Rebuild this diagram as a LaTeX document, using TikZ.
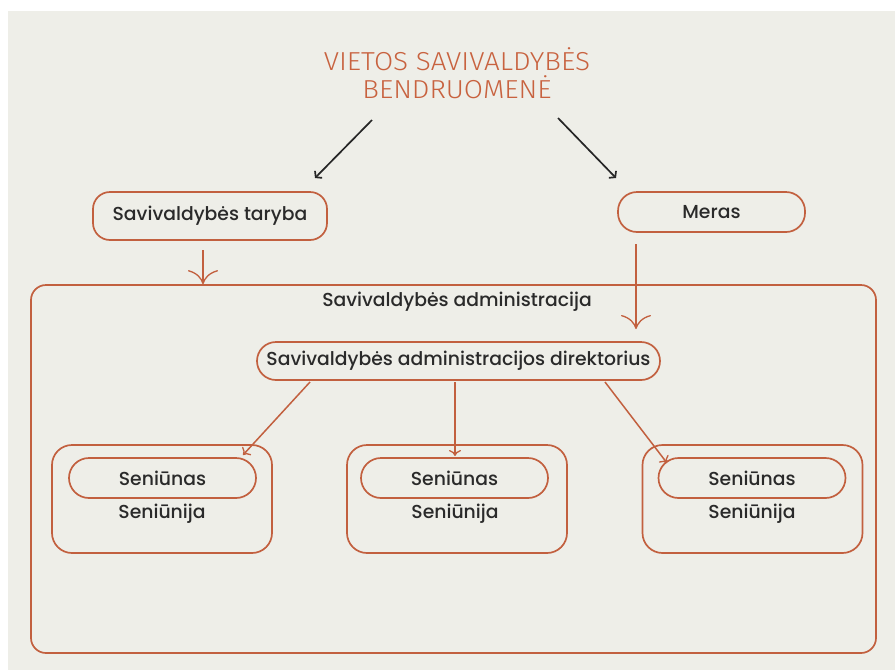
\documentclass[tikz,border=0pt]{standalone}
\usepackage{fontspec}
\setmainfont{Poppins}[UprightFont=* Medium]
\newfontfamily\titlefont{Fira Sans}[UprightFont=* Light,FakeStretch=1.07]
\usetikzlibrary{arrows.meta}
\definecolor{bg}{HTML}{EEEEE8}
\definecolor{rust}{HTML}{C2603F}
\definecolor{ink}{HTML}{2A2A2A}
\definecolor{titlecol}{HTML}{C8623F}
\begin{document}
\begin{tikzpicture}[x=1pt,y=-1pt,
  box/.style={draw=rust,line width=1.7pt,inner sep=0pt,text=ink,font=\fontsize{18.8}{21}\selectfont},
  lbl/.style={text=ink,inner sep=0pt,font=\fontsize{18.8}{21}\selectfont},
  bigarrow/.style={draw=rust,line width=1.3pt,-{Computer Modern Rightarrow[length=14pt,width=30pt,line width=1.3pt]}},
  smallarrow/.style={draw=rust,line width=1.5pt,-{Computer Modern Rightarrow[length=6pt,width=12pt,line width=1.3pt]}},
  blackarrow/.style={draw=black!85,line width=1.7pt,-{Straight Barb[length=4pt,width=10pt,line width=1.7pt]}}
]
\useasboundingbox (0,0) rectangle (895,670);
\fill[white] (0,0) rectangle (895,670);
\fill[bg] (8,11) rectangle (895,670);

% title
\node[align=center,text=titlecol,font=\titlefont\fontsize{26}{28}\selectfont,inner sep=0pt] (title) at (457,73) {VIETOS SAVIVALDYBĖS\\BENDRUOMENĖ};

% top boxes
\node[box,rounded corners=17pt,minimum width=234pt,minimum height=48pt] (taryba) at (210,216) {Savivaldybės taryba};
\node[box,rounded corners=19pt,minimum width=187pt,minimum height=40pt] (meras) at (711.5,212) {Meras};

% admin
\node[box,rounded corners=15pt,minimum width=845pt,minimum height=368pt] (admin) at (453.5,469) {};
\node[lbl] (adminlbl) at (457,302) {Savivaldybės administracija};

\node[box,rounded corners=19pt,minimum width=403pt,minimum height=38pt] (dir) at (458.5,361) {Savivaldybės administracijos direktorius};

% seniunijos
\node[box,rounded corners=20pt,minimum width=220pt,minimum height=108pt] (o1) at (162,499) {};
\node[box,rounded corners=20pt,minimum width=187pt,minimum height=40pt] (i1) at (162.5,478) {Seniūnas};
\node[lbl] (s1) at (162,514) {Seniūnija};

\node[box,rounded corners=20pt,minimum width=220pt,minimum height=108pt] (o2) at (457,499) {};
\node[box,rounded corners=20pt,minimum width=187pt,minimum height=40pt] (i2) at (454.5,478) {Seniūnas};
\node[lbl] (s2) at (455,514) {Seniūnija};

\node[box,rounded corners=20pt,minimum width=220pt,minimum height=108pt] (o3) at (752.5,499) {};
\node[box,rounded corners=20pt,minimum width=187pt,minimum height=40pt] (i3) at (752,478) {Seniūnas};
\node[lbl] (s3) at (752,514) {Seniūnija};

% black arrows
\coordinate (b1s) at (372,120);
\coordinate (b1e) at (315,178);
\coordinate (b2s) at (558,118);
\coordinate (b2e) at (616,178);
\draw[blackarrow] (b1s) -- (b1e);
\draw[blackarrow] (b2s) -- (b2e);

% rust big arrows
\coordinate (t1) at (203,250);
\draw[bigarrow] (t1) -- (t1 |- admin.north);
\coordinate (m1) at (636,244);
\coordinate (m2) at (636,329);
\draw[bigarrow] (m1) -- (m2);

% director arrows
\coordinate (d1) at (310,382);
\coordinate (e1) at (243,455);
\coordinate (d2) at (455,382);
\coordinate (e2) at (455,456);
\coordinate (d3) at (605,382);
\coordinate (e3) at (667,463);
\draw[smallarrow] (d1) -- (e1);
\draw[smallarrow] (d2) -- (e2);
\draw[smallarrow] (d3) -- (e3);
\end{tikzpicture}
\end{document}
